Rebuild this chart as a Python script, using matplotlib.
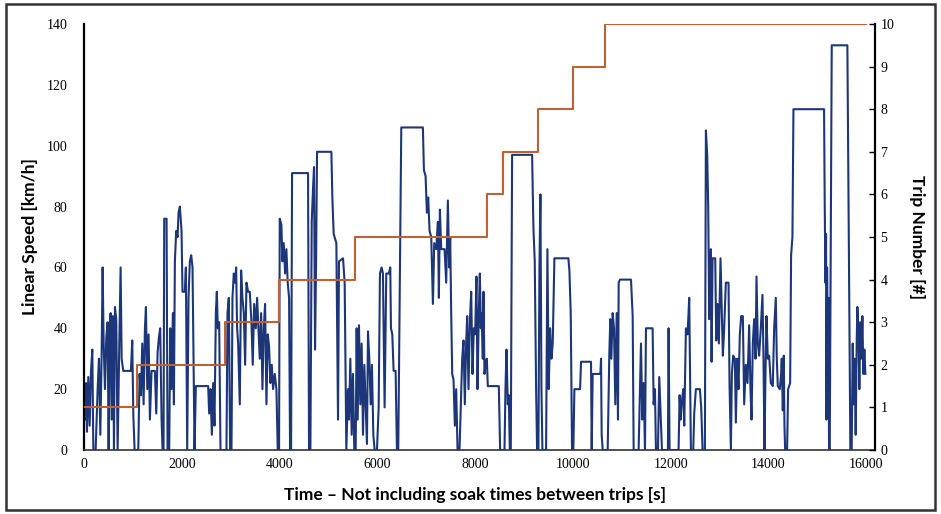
import matplotlib
matplotlib.use('Agg')
import matplotlib.pyplot as plt
from matplotlib.patches import Rectangle

time_s = [0, 20, 41, 61, 88, 116, 143, 170, 191, 238, 279, 306, 334, 361, 381, 402, 429, 456, 483, 504,
          524, 545, 565, 592, 613, 633, 660, 688, 722, 749, 770, 803, 960, 987, 1008, 1035, 1110, 1137, 1164, 1192,
          1219, 1246, 1267, 1294, 1321, 1348, 1382, 1450, 1478, 1505, 1532, 1559, 1587, 1607, 1627, 1641, 1689, 1709, 1743, 1764,
          1791, 1818, 1839, 1859, 1886, 1914, 1934, 1961, 1995, 2015, 2063, 2084, 2111, 2138, 2165, 2193, 2220, 2261, 2288, 2540,
          2560, 2588, 2615, 2642, 2669, 2697, 2717, 2737, 2765, 2792, 2914, 2935, 2962, 2989, 3017, 3037, 3064, 3091, 3112, 3132,
          3153, 3187, 3214, 3241, 3269, 3296, 3323, 3357, 3391, 3425, 3452, 3480, 3514, 3541, 3568, 3595, 3623, 3650, 3677, 3704,
          3732, 3759, 3786, 3813, 3841, 3868, 3902, 3936, 3963, 3990, 4004, 4038, 4058, 4086, 4113, 4140, 4167, 4195, 4215, 4236,
          4256, 4583, 4603, 4631, 4658, 4685, 4705, 4726, 4746, 4767, 5060, 5080, 5107, 5162, 5196, 5216, 5298, 5332, 5366, 5400,
          5420, 5448, 5475, 5502, 5529, 5557, 5577, 5598, 5625, 5652, 5679, 5707, 5734, 5761, 5788, 5809, 5836, 5863, 5890, 5918,
          5945, 5993, 6027, 6054, 6088, 6115, 6149, 6183, 6238, 6265, 6279, 6306, 6333, 6374, 6401, 6428, 6490, 6932, 6953, 6987,
          7014, 7041, 7068, 7103, 7137, 7164, 7205, 7239, 7259, 7280, 7307, 7375, 7409, 7443, 7470, 7491, 7511, 7532, 7559, 7586,
          7613, 7641, 7681, 7709, 7736, 7763, 7790, 7817, 7838, 7865, 7892, 7920, 7947, 7974, 8001, 8028, 8049, 8076, 8097, 8118,
          8131, 8158, 8172, 8192, 8213, 8240, 8260, 8485, 8512, 8601, 8621, 8642, 8669, 8689, 8710, 8730, 8757, 9166, 9193, 9220,
          9248, 9268, 9295, 9316, 9336, 9357, 9377, 9452, 9479, 9506, 9534, 9561, 9588, 9622, 9908, 9929, 9956, 9983, 10010, 10031,
          10147, 10167, 10371, 10385, 10405, 10562, 10576, 10589, 10610, 10712, 10746, 10766, 10787, 10814, 10841, 10868, 10896, 10923, 10937, 10964,
          11189, 11223, 11243, 11345, 11366, 11393, 11420, 11447, 11475, 11495, 11631, 11652, 11679, 11699, 11740, 11767, 11795, 11822, 11944, 11958,
          11978, 12162, 12183, 12204, 12224, 12258, 12278, 12312, 12346, 12380, 12414, 12462, 12482, 12516, 12598, 12625, 12653, 12700, 12721, 12748,
          12768, 12789, 12809, 12823, 12837, 12857, 12912, 12932, 12959, 12986, 13020, 13048, 13068, 13095, 13129, 13184, 13204, 13232, 13252, 13279,
          13313, 13334, 13361, 13388, 13415, 13443, 13477, 13504, 13538, 13572, 13606, 13633, 13654, 13681, 13708, 13736, 13756, 13783, 13810, 13844,
          13878, 13899, 13919, 13940, 13960, 13987, 14015, 14049, 14089, 14117, 14151, 14171, 14192, 14233, 14260, 14273, 14294, 14314, 14328, 14342,
          14382, 14403, 14444, 14464, 14491, 14512, 15138, 15152, 15166, 15179, 15186, 15200, 15213, 15227, 15240, 15254, 15295, 15615, 15649, 15676,
          15703, 15724, 15744, 15765, 15785, 15806, 15819, 15840, 15860, 15881, 15901, 15922, 15942, 15963, 15983]

speed_kmh = [18, 10, 22, 6, 24, 8, 26, 33, 0, 0, 20, 30, 5, 32, 60, 35, 20, 37, 42, 0,
             40, 45, 10, 44, 0, 47, 43, 0, 35, 60, 30, 26, 26, 36, 12, 0, 0, 25, 18, 35,
             15, 40, 47, 20, 38, 10, 26, 26, 12, 32, 37, 40, 10, 0, 0, 76, 76, 0, 0, 40,
             20, 45, 15, 62, 72, 70, 78, 80, 72, 52, 52, 60, 0, 50, 62, 64, 60, 0, 21, 21,
             12, 20, 5, 22, 8, 45, 52, 40, 42, 0, 0, 45, 50, 0, 0, 50, 58, 55, 60, 40,
             35, 15, 59, 50, 45, 28, 55, 52, 52, 42, 28, 48, 40, 50, 40, 30, 45, 20, 40, 48,
             15, 38, 34, 22, 28, 20, 25, 20, 0, 0, 76, 74, 62, 68, 58, 66, 55, 50, 0, 0,
             91, 91, 0, 0, 75, 86, 93, 33, 60, 98, 98, 83, 71, 68, 10, 62, 63, 55, 0, 20,
             10, 30, 5, 25, 0, 0, 40, 10, 41, 15, 35, 5, 28, 15, 2, 39, 30, 15, 28, 5,
             0, 0, 14, 58, 60, 58, 14, 58, 58, 60, 40, 38, 26, 26, 0, 0, 106, 106, 92, 90,
             78, 83, 72, 70, 48, 68, 66, 75, 50, 79, 66, 66, 55, 82, 60, 70, 45, 25, 23, 8,
             20, 0, 0, 15, 30, 36, 15, 35, 44, 20, 42, 52, 25, 40, 38, 57, 20, 45, 58, 40,
             45, 30, 52, 25, 28, 30, 21, 21, 0, 0, 20, 33, 15, 18, 0, 0, 97, 97, 73, 62,
             20, 0, 0, 60, 84, 20, 0, 0, 66, 20, 40, 30, 35, 63, 63, 59, 45, 0, 0, 20,
             20, 29, 29, 0, 25, 25, 30, 5, 0, 0, 32, 43, 30, 45, 40, 15, 45, 10, 55, 56,
             56, 44, 0, 0, 15, 35, 10, 22, 0, 40, 40, 15, 20, 0, 0, 24, 12, 0, 0, 40,
             0, 0, 18, 10, 15, 20, 8, 40, 38, 50, 0, 0, 12, 20, 20, 14, 0, 0, 105, 97,
             80, 43, 60, 66, 29, 63, 63, 36, 48, 35, 63, 45, 31, 40, 55, 55, 22, 0, 25, 31,
             30, 9, 30, 20, 38, 44, 44, 15, 28, 22, 41, 20, 10, 35, 43, 30, 57, 35, 31, 40,
             51, 30, 0, 25, 44, 30, 31, 22, 21, 40, 50, 30, 21, 20, 25, 30, 13, 31, 8, 0,
             0, 20, 22, 64, 70, 112, 112, 80, 55, 71, 10, 60, 35, 50, 0, 0, 133, 133, 60, 0,
             0, 35, 15, 30, 5, 36, 47, 40, 20, 42, 30, 44, 25, 33, 25]

trip_change_s = [0, 1094, 2874, 3995, 5543, 8248, 8566, 9280, 9993, 10659, 16000]
trip_number = [1, 2, 3, 4, 5, 6, 7, 8, 9, 10, 10]

x_ticks = [0, 2000, 4000, 6000, 8000, 10000, 12000, 14000, 16000]
speed_ticks = [0, 20, 40, 60, 80, 100, 120, 140]
trip_ticks = [0, 1, 2, 3, 4, 5, 6, 7, 8, 9, 10]

label_font = ['Lato', 'DejaVu Sans']
tick_font = ['Liberation Serif', 'DejaVu Serif']

fig = plt.figure(figsize=(9.41, 5.14), dpi=100)
ax = fig.add_axes([84 / 941, 64 / 514, (875 - 84) / 941, (450 - 24) / 514])
ax2 = ax.twinx()

ax.plot(time_s, speed_kmh, color='#1d3679', lw=1.5, zorder=2)
ax2.step(trip_change_s, trip_number, where='post', color='#c0622f', lw=1.5, zorder=3)

ax.set_xlim(0, 16180)
ax.set_ylim(0, 140)
ax2.set_ylim(0, 10)
ax.set_xticks(x_ticks)
ax.set_yticks(speed_ticks)
ax2.set_yticks(trip_ticks)

for a in (ax, ax2):
    a.spines['top'].set_visible(False)
ax.spines['right'].set_visible(False)
ax2.spines['left'].set_visible(False)
ax2.spines['bottom'].set_visible(False)
ax.spines['left'].set_linewidth(1.6)
ax.spines['bottom'].set_linewidth(1.2)
ax.spines['bottom'].set_color('#333333')
ax2.spines['right'].set_linewidth(1.6)

ax.tick_params(axis='y', length=0, pad=12)
ax.tick_params(axis='x', length=0, pad=6)
ax2.tick_params(axis='y', direction='in', length=4, width=1, pad=4)

for lab in ax.get_xticklabels() + ax.get_yticklabels() + ax2.get_yticklabels():
    lab.set_fontfamily(tick_font)
    lab.set_fontsize(10)

ax.set_xlabel('Time \u2013 Not including soak times between trips [s]', fontsize=12.5,
              fontweight='bold', family=label_font)
ax.set_ylabel('Linear Speed [km/h]', fontsize=12.5, fontweight='bold', family=label_font)
ax2.set_ylabel('Trip Number [#]', fontsize=12.5, fontweight='bold', family=label_font,
               rotation=270)
ax.xaxis.set_label_coords((475 - 84) / 791, (450 - 487) / 426)
ax.yaxis.set_label_coords((38 - 84) / 791, 0.5)
ax2.yaxis.set_label_coords((925 - 84) / 791, 0.5)

fig.patches.append(Rectangle((6 / 941, 4 / 514), (935 - 6) / 941, (510 - 4) / 514,
                             transform=fig.transFigure, fill=False,
                             edgecolor='#333333', lw=1.8))

fig.savefig('out.png', dpi=100)
